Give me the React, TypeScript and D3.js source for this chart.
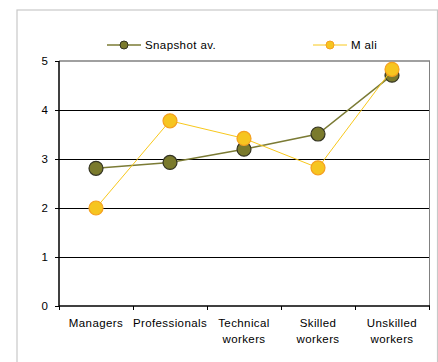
import React from "react";
import * as d3 from "d3";

const categories = [["Managers"], ["Professionals"], ["Technical", "workers"], ["Skilled", "workers"], ["Unskilled", "workers"]];
const snapshot = [2.81, 2.93, 3.2, 3.51, 4.71];
const mali = [2.0, 3.78, 3.42, 2.82, 4.83];
const yTicks = [0, 1, 2, 3, 4, 5];
const seriesNames = ["Snapshot av.", "M ali"];

const W = 438, H = 362;
const left = 59, right = 429, top = 61, bottom = 306;

export default function App() {
  const x = d3.scaleBand<number>().domain(d3.range(categories.length)).range([left, right]);
  const y = d3.scaleLinear().domain([0, 5]).range([bottom, top]);
  const cy = (t: number) => Math.round(y(t)) + 0.5;
  const line = d3.line<number>().x((_, i) => x(i)! + x.bandwidth() / 2).y((d) => y(d));
  const font = "Arial, 'Liberation Sans', sans-serif";
  const series = [
    { name: seriesNames[0], data: snapshot, line: "#7b7b35", fill: "#7a7a2c", stroke: "#333322", lw: 1.5 },
    { name: seriesNames[1], data: mali, line: "#f8c81c", fill: "#f6c520", stroke: "#f5a020", lw: 1 },
  ];
  const legendX = [107, 313];
  const fs = 11.5;
  const ls = 0.4;
  return (
    <svg width={W} height={H} style={{ position: "absolute", left: 0, top: 0 }} fontFamily={font}>
      <rect x={0} y={0} width={W} height={H} fill="#fff" />
      <rect x={17} y={10} width={W - 17.5} height={H} fill="#fff" stroke="#c8c8c8" strokeWidth={1.2} />
      <line x1={right + 0.5} x2={right + 0.5} y1={top} y2={bottom} stroke="#808080" strokeWidth={1} />
      {yTicks.map((t) => (
        <g key={t}>
          {t > 0 && t < 5 && <line x1={left} x2={right} y1={cy(t)} y2={cy(t)} stroke="#000" strokeWidth={1} />}
          <line x1={left - 4} x2={left} y1={cy(t)} y2={cy(t)} stroke="#000" strokeWidth={1} />
          <text x={48} y={y(t)} dy="0.35em" textAnchor="end" fontSize={fs} fill="#000">{t}</text>
        </g>
      ))}
      <line x1={left} x2={right + 1} y1={y(5)} y2={y(5)} stroke="#808080" strokeWidth={1.5} />
      <line x1={left} x2={left} y1={top} y2={bottom + 0.5} stroke="#000" strokeWidth={1.5} />
      <line x1={left} x2={right + 1} y1={bottom} y2={bottom} stroke="#000" strokeWidth={1.5} />
      {d3.range(categories.length + 1).map((i) => {
        const xx = Math.round(left + i * x.step()) + 0.5;
        return <line key={i} x1={xx} x2={xx} y1={bottom} y2={bottom + 4} stroke="#000" strokeWidth={1} />;
      })}
      {categories.map((c, i) => (
        <text key={i} textAnchor="middle" fontSize={fs} letterSpacing={ls} fill="#000">
          {c.map((s, j) => (
            <tspan key={j} x={x(i)! + x.bandwidth() / 2} y={327 + j * 16}>{s}</tspan>
          ))}
        </text>
      ))}
      {series.map((s, k) => (
        <g key={k}>
          <path d={line(s.data)!} fill="none" stroke={s.line} strokeWidth={s.lw} />
          {s.data.map((v, i) => (
            <circle key={i} cx={x(i)! + x.bandwidth() / 2} cy={y(v)} r={7} fill={s.fill} stroke={s.stroke} strokeWidth={1.2} />
          ))}
          <line x1={legendX[k]} x2={legendX[k] + 34} y1={45} y2={45} stroke={s.line} strokeWidth={s.lw} />
          <circle cx={legendX[k] + 17} cy={45} r={4} fill={s.fill} stroke={s.stroke} strokeWidth={1} />
          <text x={legendX[k] + 38} y={45} dy="0.35em" fontSize={fs} letterSpacing={ls} fill="#000">{s.name}</text>
        </g>
      ))}
    </svg>
  );
}
